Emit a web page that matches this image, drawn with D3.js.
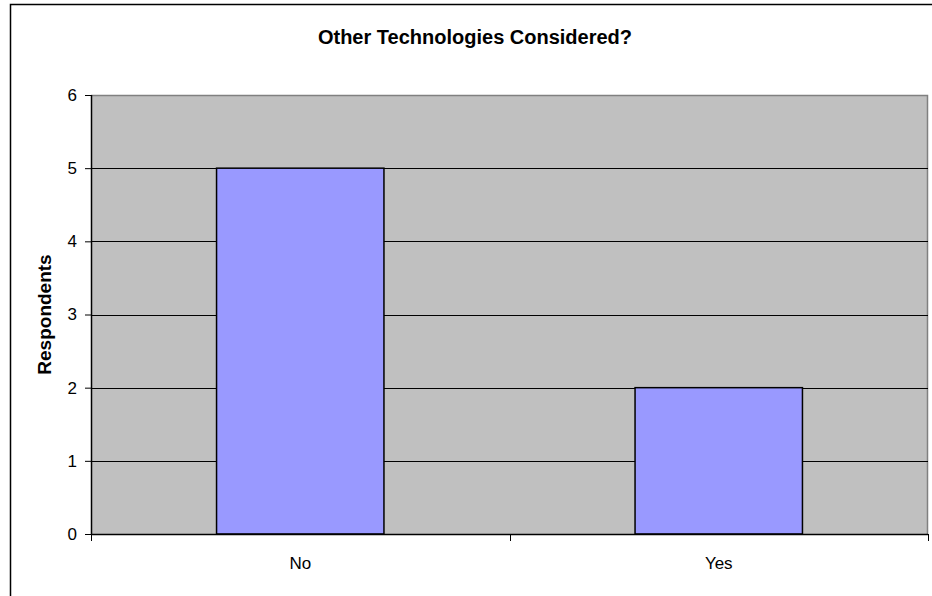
<!DOCTYPE html>
<html><head><meta charset="utf-8">
<script src="https://cdn.jsdelivr.net/npm/d3@7"></script>
<style>body{margin:0;background:#fff}svg{display:block;font-family:"Liberation Sans",Arial,sans-serif}</style>
</head><body><svg id="c" width="932" height="596"></svg>
<script>
const categories = ["No", "Yes"];
const values = [5, 2];
const yTicks = [0, 1, 2, 3, 4, 5, 6];
const title = "Other Technologies Considered?";
const yLabel = "Respondents";

const svg = d3.select("#c");
const m = {l: 91, t: 95, r: 928, b: 534};
// outer border
svg.append("path").attr("d", "M10.5,596 V4.5 H932").attr("fill", "none").attr("stroke", "#000").attr("stroke-width", 1.5);

const x = d3.scaleBand().domain(categories).range([m.l, m.r]).paddingInner(0.6).paddingOuter(0.3);
const xb = d3.scaleBand().domain(categories).range([m.l, m.r]);
const y = d3.scaleLinear().domain([0, 6]).range([m.b, m.t]);

svg.append("rect").attr("x", m.l).attr("y", m.t).attr("width", m.r - m.l).attr("height", m.b - m.t).attr("fill", "#c0c0c0");
svg.append("path").attr("d", `M${m.l},${m.t + 0.5} H${m.r - 0.5} V${m.b}`).attr("fill", "none").attr("stroke", "#808080").attr("stroke-width", 1.5);

// grid
svg.append("g").selectAll("line").data(yTicks.filter(t => t > 0 && t < 6)).join("line")
  .attr("x1", m.l).attr("x2", m.r).attr("y1", d => Math.round(y(d)) + 0.5).attr("y2", d => Math.round(y(d)) + 0.5)
  .attr("stroke", "#000").attr("stroke-width", 1);

// bars
svg.append("g").selectAll("rect").data(values).join("rect")
  .attr("x", (d, i) => x(categories[i])).attr("width", x.bandwidth())
  .attr("y", d => y(d)).attr("height", d => y(0) - y(d))
  .attr("fill", "#9999ff").attr("stroke", "#000").attr("stroke-width", 1.5);

// y axis
const ya = svg.append("g").attr("transform", `translate(${m.l},0)`)
  .call(d3.axisLeft(y).tickValues(yTicks).tickSize(6).tickPadding(8).tickFormat(d3.format("d")));
ya.attr("font-size", 17).attr("font-family", "Liberation Sans, Arial, sans-serif");
ya.select(".domain").attr("stroke", "#000").attr("stroke-width", 1.5).attr("d", `M0.5,${m.t} V${m.b}`);
ya.selectAll("text").attr("fill", "#000");
ya.selectAll(".tick line").attr("stroke", "#000");

// x axis
const xa = svg.append("g").attr("transform", `translate(0,${m.b})`)
  .call(d3.axisBottom(xb).tickSize(0).tickPadding(23));
xa.attr("font-size", 17).attr("font-family", "Liberation Sans, Arial, sans-serif");
xa.select(".domain").attr("stroke", "#000").attr("stroke-width", 1.5).attr("d", `M${m.l},0.5 H${m.r}`);
xa.selectAll("text").attr("fill", "#000");
const bounds = [m.l, m.l + xb.step(), m.r];
xa.selectAll(".sep").data(bounds).join("line").attr("class", "sep")
  .attr("x1", d => Math.round(d) + 0.5).attr("x2", d => Math.round(d) + 0.5).attr("y1", 0).attr("y2", 7).attr("stroke", "#000");

svg.append("text").attr("x", 475).attr("y", 44).attr("text-anchor", "middle")
  .attr("font-size", 20).attr("font-weight", "bold").text(title);
svg.append("text").attr("transform", `translate(51,${(m.t + m.b) / 2}) rotate(-90)`).attr("text-anchor", "middle")
  .attr("font-size", 19).attr("font-weight", "bold").text(yLabel);
</script></body></html>
